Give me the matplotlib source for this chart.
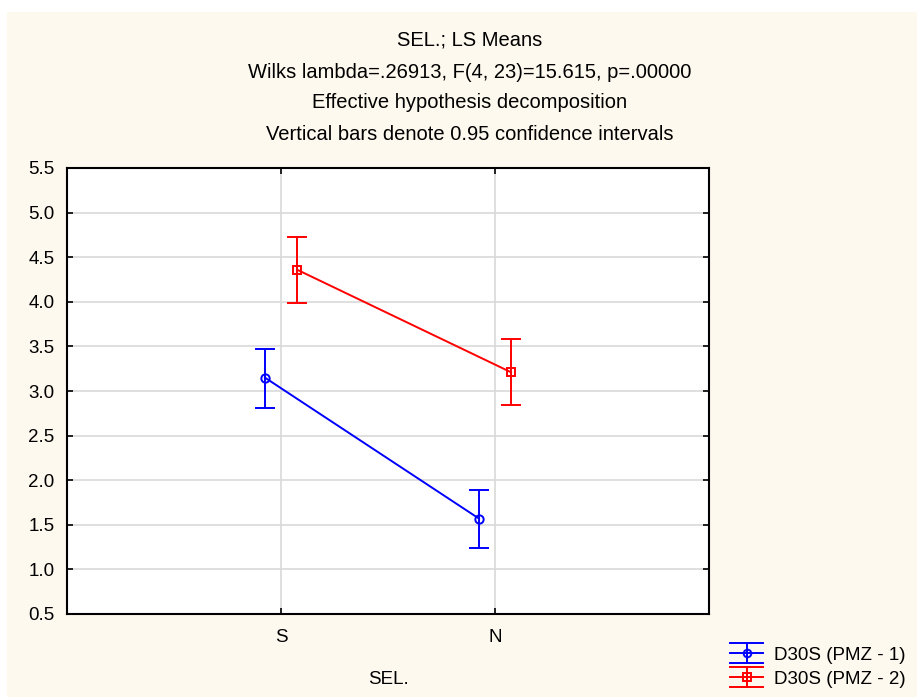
import matplotlib
matplotlib.use("Agg")
import matplotlib.pyplot as plt
from matplotlib.lines import Line2D
from matplotlib.legend_handler import HandlerBase
from matplotlib.patches import Rectangle

plt.rcParams['font.family'] = ['Liberation Sans', 'DejaVu Sans']

categories = ['S', 'N']
series_names = ['D30S (PMZ - 1)', 'D30S (PMZ - 2)']
pmz1_mean = [3.15, 1.57]
pmz1_low = [2.81, 1.24]
pmz1_high = [3.47, 1.89]
pmz2_mean = [4.36, 3.21]
pmz2_low = [3.99, 2.84]
pmz2_high = [4.73, 3.58]
yticks = [0.5, 1.0, 1.5, 2.0, 2.5, 3.0, 3.5, 4.0, 4.5, 5.0, 5.5]
title_lines = ['SEL.; LS Means',
               'Wilks lambda=.26913, F(4, 23)=15.615, p=.00000',
               'Effective hypothesis decomposition',
               'Vertical bars denote 0.95 confidence intervals']

BG = '#FEF9EE'
fig = plt.figure(figsize=(9.17, 6.97), dpi=100, facecolor='white')
fig.patches.append(Rectangle((7/917, 0), 1, 1 - 12/697, transform=fig.transFigure,
                             facecolor=BG, edgecolor='none', zorder=-10))

ax = fig.add_axes([67/917, 1 - 614/697, (709 - 67)/917, (614 - 168)/697])
ax.set_facecolor('white')

x = list(range(1, len(categories) + 1))
off = 0.075
series = [
    (pmz1_mean, pmz1_low, pmz1_high, '#0000FF', 'o', 6.0, -off),
    (pmz2_mean, pmz2_low, pmz2_high, '#FF0000', 's', 5.5, off),
]
for (m, lo, hi, c, mk, ms, dx) in series:
    xs = [xi + dx for xi in x]
    err = [[mi - l for mi, l in zip(m, lo)], [h - mi for mi, h in zip(m, hi)]]
    ax.errorbar(xs, m, yerr=err, color=c, marker=mk, markersize=ms,
                markerfacecolor='none', markeredgecolor=c, markeredgewidth=1.4,
                lw=1.4, elinewidth=1.4, capsize=7.5, capthick=1.4, zorder=3)

ax.set_xlim(0, 3)
ax.set_ylim(0.5, 5.5)
ax.set_xticks(x)
ax.set_xticklabels(categories, fontsize=13.5)
ax.set_yticks(yticks)
ax.set_yticklabels([f'{v:.1f}' for v in yticks], fontsize=13.5)
ax.grid(True, color='#D9D9D9', lw=1.2, zorder=0)
ax.set_axisbelow(True)
ax.tick_params(direction='in', length=4, width=1.2, top=True, right=True,
               colors='black')
ax.tick_params(axis='y', pad=9)
ax.tick_params(axis='x', pad=11)
for s in ax.spines.values():
    s.set_linewidth(1.5)
    s.set_color('black')
ax.set_xlabel('SEL.', fontsize=13.5, labelpad=18)

ys = [40, 72, 103, 135]
for t, yy in zip(title_lines, ys):
    fig.text(470/917, 1 - yy/697, t, ha='center', va='center', fontsize=14.5)


class ErrHandler(HandlerBase):
    def create_artists(self, legend, orig_handle, xdescent, ydescent,
                       width, height, fontsize, trans):
        c = orig_handle.get_color()
        mk = orig_handle.get_marker()
        cy = height / 2 - ydescent
        cx = width / 2 - xdescent
        d = 7.5
        arts = []
        for yy in (cy - d, cy, cy + d):
            arts.append(Line2D([-xdescent, width - xdescent], [yy, yy], color=c, lw=1.4))
        arts.append(Line2D([cx, cx], [cy - d, cy + d], color=c, lw=1.4))
        arts.append(Line2D([cx], [cy], marker=mk, markersize=5.5, color=c,
                           markerfacecolor='none', markeredgewidth=1.4, lw=0))
        for a in arts:
            a.set_transform(trans)
        return arts


handles = [Line2D([], [], color='#0000FF', marker='o'),
           Line2D([], [], color='#FF0000', marker='s')]
leg = fig.legend(handles, series_names, loc='center left',
                 bbox_to_anchor=(730/917, 1 - 667/697), frameon=False,
                 fontsize=13.5, handlelength=1.76, handletextpad=0.6,
                 labelspacing=0.36, borderpad=0, borderaxespad=0,
                 handler_map={Line2D: ErrHandler()})

fig.savefig('out.png', dpi=100, facecolor=fig.get_facecolor())
